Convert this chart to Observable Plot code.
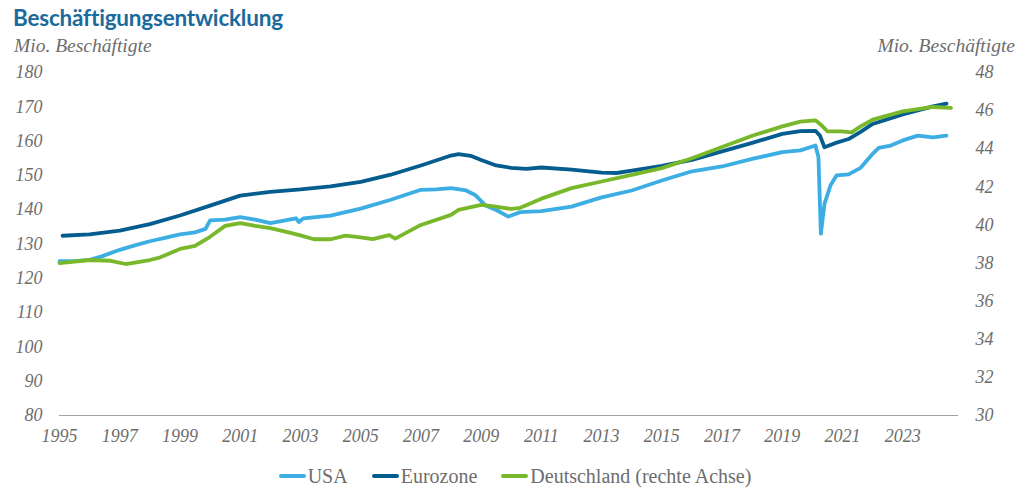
<!DOCTYPE html>
<html><head><meta charset="utf-8">
<script src="https://cdn.jsdelivr.net/npm/d3@7"></script>
<script src="https://cdn.jsdelivr.net/npm/@observablehq/plot@0.6"></script>
<style>
body{margin:0;background:#fff;width:1024px;height:493px;overflow:hidden;}
#head{position:relative;height:62px;}
#title{position:absolute;left:13px;top:4px;font:bold 22.5px Lato,sans-serif;color:#1b6a9b;letter-spacing:-0.2px;}
.unit{position:absolute;top:35px;font:italic 19.5px "Liberation Serif",serif;color:#6d6d6d;}
#chart{height:395px;}
#legend{height:38px;display:flex;justify-content:center;align-items:center;font:20px "Liberation Serif",serif;color:#6d6d6d;padding-left:6px;}
.item{display:flex;align-items:center;margin:0 12px;}
.sw{width:27px;height:4px;border-radius:2px;margin-right:2px;}
</style></head>
<body>
<div id="head">
  <div id="title">Beschäftigungsentwicklung</div>
  <div class="unit" style="left:14px">Mio. Beschäftigte</div>
  <div class="unit" style="right:9px">Mio. Beschäftigte</div>
</div>
<div id="chart"></div>
<div id="legend"></div>
<script>
// ---- Data ----
const seriesNames = ["USA", "Eurozone", "Deutschland (rechte Achse)"];
const seriesColors = ["#3caee3", "#045d8e", "#78b82a"];

const usaTime = [1995.0,1995.5,1996.0,1996.4,1997.0,1997.5,1998.0,1998.5,1999.0,1999.5,1999.85,2000.0,2000.5,2001.0,2001.5,2002.0,2002.5,2002.85,2002.95,2003.1,2004.0,2005.0,2006.0,2007.0,2007.5,2008.0,2008.5,2008.8,2009.15,2009.55,2009.9,2010.3,2011.0,2012.0,2013.0,2014.0,2015.0,2016.0,2017.0,2018.0,2019.0,2019.6,2020.1,2020.2,2020.28,2020.4,2020.6,2020.8,2021.2,2021.6,2022.0,2022.2,2022.6,2023.0,2023.5,2024.0,2024.45];
const usaValues = [125.0,125.0,125.4,126.4,128.3,129.6,130.8,131.8,132.8,133.4,134.4,136.9,137.1,137.8,137.1,136.1,136.9,137.5,136.4,137.5,138.3,140.3,142.9,145.8,145.9,146.3,145.6,144.3,141.2,139.7,138.0,139.3,139.6,140.9,143.6,145.6,148.5,151.2,152.6,154.8,156.8,157.3,158.7,155.3,133.0,141.7,147.1,150.0,150.3,152.2,156.3,158.0,158.7,160.2,161.6,161.1,161.6];

const euroTime = [1995.1,1996,1997,1998,1999,2000,2001,2002,2003,2004,2005,2006,2007,2008,2008.25,2008.65,2009,2009.5,2010,2010.5,2011,2012,2013,2013.5,2014,2015,2016,2017,2018,2019,2019.6,2020.1,2020.25,2020.4,2020.75,2021.2,2021.6,2022,2023,2024,2024.45];
const euroValues = [132.4,132.8,133.9,135.8,138.3,141.2,144.1,145.2,145.9,146.8,148.1,150.2,152.9,155.8,156.2,155.7,154.5,152.9,152.2,151.9,152.3,151.7,150.8,150.7,151.4,152.8,154.5,157.0,159.5,162.1,162.9,163.0,161.6,158.2,159.4,160.6,162.7,165.0,167.8,170.1,170.9];

const deTime = [1995.0,1996.0,1996.7,1997.2,1998.0,1998.35,1999.0,1999.5,2000.0,2000.5,2001.0,2001.5,2002.0,2002.5,2003.0,2003.45,2004.0,2004.5,2005.0,2005.4,2005.95,2006.15,2007.0,2008.0,2008.25,2009.0,2009.3,2010.0,2010.3,2011.0,2012.0,2013.0,2014.0,2015.0,2016.0,2017.0,2018.0,2019.0,2019.6,2020.1,2020.28,2020.5,2020.95,2021.3,2021.6,2022.0,2023.0,2024.0,2024.6];
const deValues = [38.0,38.16,38.12,37.95,38.16,38.3,38.74,38.9,39.38,39.95,40.09,39.95,39.83,39.65,39.45,39.25,39.25,39.44,39.35,39.26,39.47,39.28,40.0,40.53,40.79,41.05,41.0,40.84,40.9,41.38,41.93,42.28,42.63,42.98,43.5,44.09,44.68,45.17,45.42,45.49,45.26,44.91,44.91,44.86,45.17,45.53,45.96,46.19,46.14];

const xTicks = [1995,1997,1999,2001,2003,2005,2007,2009,2011,2013,2015,2017,2019,2021,2023];
const leftTicks = [80,90,100,110,120,130,140,150,160,170,180];
const rightTicks = [30,32,34,36,38,40,42,44,46,48];

// right axis (30..48) mapped onto left axis (80..180)
const toLeft = r => 80 + (r - 30) * (100 / 18);
const toRight = l => 30 + (l - 80) * (18 / 100);

const usa = usaTime.map((t, i) => ({t, v: usaValues[i]}));
const euro = euroTime.map((t, i) => ({t, v: euroValues[i]}));
const de = deTime.map((t, i) => ({t, v: toLeft(deValues[i])}));

const lineOpts = (c) => ({x: "t", y: "v", stroke: c, strokeWidth: 3.8, strokeLinejoin: "round", strokeLinecap: "round"});

const chart = Plot.plot({
  width: 1024, height: 395,
  marginTop: 10, marginBottom: 42, marginLeft: 59, marginRight: 66,
  x: {domain: [1995, 2024.85]},
  y: {domain: [80, 180]},
  style: {fontFamily: "'Liberation Serif', serif", fontStyle: "italic", fontSize: "18px", color: "#6d6d6d", background: "#fff"},
  marks: [
    Plot.axisX({ticks: xTicks, tickFormat: d => String(d), tickSize: 0, tickPadding: 14, label: null}),
    Plot.axisY({ticks: leftTicks, tickSize: 0, tickPadding: 17, label: null}),
    Plot.axisY({anchor: "right", ticks: rightTicks.map(toLeft), tickFormat: d => String(Math.round(toRight(d))), tickSize: 0, tickPadding: 17, label: null}),
    Plot.ruleY([80], {stroke: "#a3a3a3", strokeWidth: 1.2}),
    Plot.line(usa, lineOpts(seriesColors[0])),
    Plot.line(euro, lineOpts(seriesColors[1])),
    Plot.line(de, lineOpts(seriesColors[2]))
  ]
});
document.getElementById("chart").appendChild(chart);

const leg = document.getElementById("legend");
seriesNames.forEach((n, i) => {
  const it = document.createElement("div");
  it.className = "item";
  const sw = document.createElement("div");
  sw.className = "sw";
  sw.style.background = seriesColors[i];
  const tx = document.createElement("span");
  tx.textContent = n;
  it.appendChild(sw); it.appendChild(tx);
  leg.appendChild(it);
});
</script>
</body></html>
